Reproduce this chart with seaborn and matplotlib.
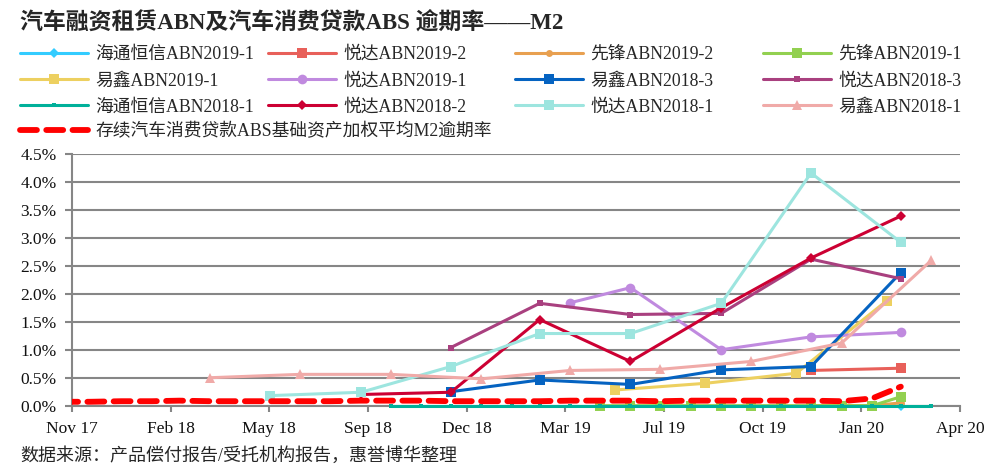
import matplotlib
matplotlib.use("Agg")
import matplotlib.pyplot as plt
import matplotlib.dates as mdates
from matplotlib.ticker import PercentFormatter, MultipleLocator
import seaborn as sns
import pandas as pd

# ---- data (values in %) ----
haitong_2019_1_dates = ["2020-02-29"]
haitong_2019_1 = [0.0]

yueda_2019_2_dates = ["2019-11-30", "2020-02-29"]
yueda_2019_2 = [0.63, 0.67]

xianfeng_2019_2_dates = ["2019-11-30", "2019-12-31", "2020-01-31", "2020-02-29"]
xianfeng_2019_2 = [0.0, 0.0, 0.0, 0.05]

xianfeng_2019_1_dates = ["2019-04-30", "2019-05-31", "2019-06-30", "2019-07-31", "2019-08-31",
                         "2019-09-30", "2019-10-31", "2019-11-30", "2019-12-31", "2020-01-31",
                         "2020-02-29"]
xianfeng_2019_1 = [0.0, 0.0, 0.0, 0.0, 0.0, 0.0, 0.0, 0.0, 0.0, 0.0, 0.16]

yixin_2019_1_dates = ["2019-05-15", "2019-08-15", "2019-11-15", "2020-02-15"]
yixin_2019_1 = [0.28, 0.40, 0.58, 1.88]

yueda_2019_1_dates = ["2019-03-31", "2019-05-31", "2019-08-31", "2019-11-30", "2020-02-29"]
yueda_2019_1 = [1.84, 2.11, 1.00, 1.23, 1.31]

yixin_2018_3_dates = ["2018-11-30", "2019-02-28", "2019-05-31", "2019-08-31", "2019-11-30", "2020-02-29"]
yixin_2018_3 = [0.25, 0.46, 0.38, 0.64, 0.70, 2.38]

yueda_2018_3_dates = ["2018-11-30", "2019-02-28", "2019-05-31", "2019-08-31", "2019-11-30", "2020-02-29"]
yueda_2018_3 = [1.04, 1.83, 1.63, 1.65, 2.62, 2.27]

haitong_2018_1_dates = list(pd.date_range("2018-09-30", "2020-03-31", freq="ME").strftime("%Y-%m-%d"))
haitong_2018_1 = [0.0] * 19

yueda_2018_2_dates = ["2018-08-31", "2018-11-30", "2019-02-28", "2019-05-31", "2019-08-31",
                      "2019-11-30", "2020-02-29"]
yueda_2018_2 = [0.20, 0.24, 1.54, 0.79, 1.75, 2.64, 3.39]

yueda_2018_1_dates = ["2018-05-31", "2018-08-31", "2018-11-30", "2019-02-28", "2019-05-31",
                      "2019-08-31", "2019-11-30", "2020-02-29"]
yueda_2018_1 = [0.18, 0.24, 0.70, 1.29, 1.29, 1.83, 4.16, 2.92]

yixin_2018_1_dates = ["2018-03-31", "2018-06-30", "2018-09-30", "2018-12-31", "2019-03-31",
                      "2019-06-30", "2019-09-30", "2019-12-31", "2020-03-31"]
yixin_2018_1 = [0.50, 0.56, 0.56, 0.48, 0.63, 0.65, 0.79, 1.12, 2.60]

market_dates = list(pd.date_range("2017-10-31", "2020-02-29", freq="ME").strftime("%Y-%m-%d"))
market_m2 = [0.07, 0.07, 0.08, 0.08, 0.09, 0.08, 0.08, 0.08, 0.08, 0.08,
             0.09, 0.09, 0.09, 0.08, 0.08, 0.08, 0.08, 0.09, 0.09, 0.09,
             0.08, 0.09, 0.09, 0.09, 0.09, 0.09, 0.08, 0.13, 0.34]

x_start = pd.Timestamp("2017-11-11")
x_ticks = [x_start + pd.Timedelta(days=100 * k) for k in range(10)]

# label, dates, values, color, marker, markersize
series = [
    ("海通恒信ABN2019-1", haitong_2019_1_dates, haitong_2019_1, "#33CCFF", "D", 5),
    ("悦达ABN2019-2", yueda_2019_2_dates, yueda_2019_2, "#E8605A", "s", 7),
    ("先锋ABN2019-2", xianfeng_2019_2_dates, xianfeng_2019_2, "#E8A050", "o", 5),
    ("先锋ABN2019-1", xianfeng_2019_1_dates, xianfeng_2019_1, "#92D050", "s", 7),
    ("易鑫ABN2019-1", yixin_2019_1_dates, yixin_2019_1, "#EDD060", "s", 7),
    ("悦达ABN2019-1", yueda_2019_1_dates, yueda_2019_1, "#C08ADF", "o", 7),
    ("易鑫ABN2018-3", yixin_2018_3_dates, yixin_2018_3, "#0563C1", "s", 7),
    ("悦达ABN2018-3", yueda_2018_3_dates, yueda_2018_3, "#A9407F", "s", 4.5),
    ("海通恒信ABN2018-1", haitong_2018_1_dates, haitong_2018_1, "#00B09A", "s", 3.5),
    ("悦达ABN2018-2", yueda_2018_2_dates, yueda_2018_2, "#CC0033", "D", 5.5),
    ("悦达ABN2018-1", yueda_2018_1_dates, yueda_2018_1, "#9DE5DF", "s", 7),
    ("易鑫ABN2018-1", yixin_2018_1_dates, yixin_2018_1, "#F0AAA8", "^", 7),
]

sns.set_style("white")
plt.rcParams['font.family'] = ['Liberation Serif', 'Noto Sans CJK SC']
plt.rcParams['axes.unicode_minus'] = False

fig = plt.figure(figsize=(10.04, 4.72), dpi=100)
ax = fig.add_axes([0.0717, 0.1405, 0.8845, 0.5333])

for label, dates, vals, color, marker, ms in series:
    sns.lineplot(x=pd.to_datetime(dates), y=vals, ax=ax, color=color, marker=marker,
                 markersize=ms, markeredgewidth=0, linewidth=2.2, label=label,
                 clip_on=False, zorder=3)

sns.lineplot(x=pd.to_datetime(market_dates), y=market_m2, ax=ax, color="#FF0000",
             linewidth=4.2, label="存续汽车消费贷款ABS基础资产加权平均M2逾期率",
             dashes=False, zorder=3)
ax.lines[-1].set_linestyle((0, (2.9, 1.6)))
ax.lines[-1].set_dash_capstyle("round")

ax.set_xlim(x_start, x_start + pd.Timedelta(days=900))
ax.set_ylim(0, 4.5)
ax.yaxis.set_major_locator(MultipleLocator(0.5))
ax.yaxis.set_major_formatter(PercentFormatter(xmax=100, decimals=1))
ax.set_xticks(x_ticks)
ax.xaxis.set_major_formatter(mdates.DateFormatter("%b %y"))
ax.set_xlabel("")
ax.set_ylabel("")

ax.grid(axis="y", color="#868686", linewidth=1.5)
ax.set_axisbelow(True)
for side in ["top", "right"]:
    ax.spines[side].set_visible(False)
for side in ["left", "bottom"]:
    ax.spines[side].set_color("#868686")
    ax.spines[side].set_linewidth(1.5)
ax.tick_params(axis="y", left=True, length=5, width=1.5, color="#868686",
               labelsize=12.5, pad=6, labelcolor="#111111")
ax.tick_params(axis="x", bottom=True, length=4, width=1.5, color="#868686",
               labelsize=12.5, pad=7, labelcolor="#111111")

# legend: four equal columns like the original, last entry on its own row
handles, labels = ax.get_legend_handles_labels()
ax.get_legend().remove()
col_x = [20, 268, 515, 763]
for c in range(4):
    idx = [c, c + 4, c + 8]
    fig.legend([handles[i] for i in idx], [labels[i] for i in idx],
               loc="upper left", bbox_to_anchor=(col_x[c] / 1004, 1 - 46 / 472),
               frameon=False, fontsize=12.8, handlelength=3.85, handletextpad=0.4,
               borderpad=0, borderaxespad=0, labelspacing=0.52)
fig.legend([handles[12]], [labels[12]], loc="upper left",
           bbox_to_anchor=(col_x[0] / 1004, 1 - 123 / 472), frameon=False,
           fontsize=12.8, handlelength=3.85, handletextpad=0.4, borderpad=0,
           borderaxespad=0)

fig.text(20 / 1004, 1 - 22 / 472, "汽车融资租赁ABN及汽车消费贷款ABS 逾期率——M2",
         fontsize=16.5, fontweight="bold", va="center", ha="left")
fig.text(20 / 1004, 1 - 456 / 472, "数据来源：产品偿付报告/受托机构报告，惠誉博华整理",
         fontsize=13, va="center", ha="left")

fig.savefig("out.png", dpi=100)
